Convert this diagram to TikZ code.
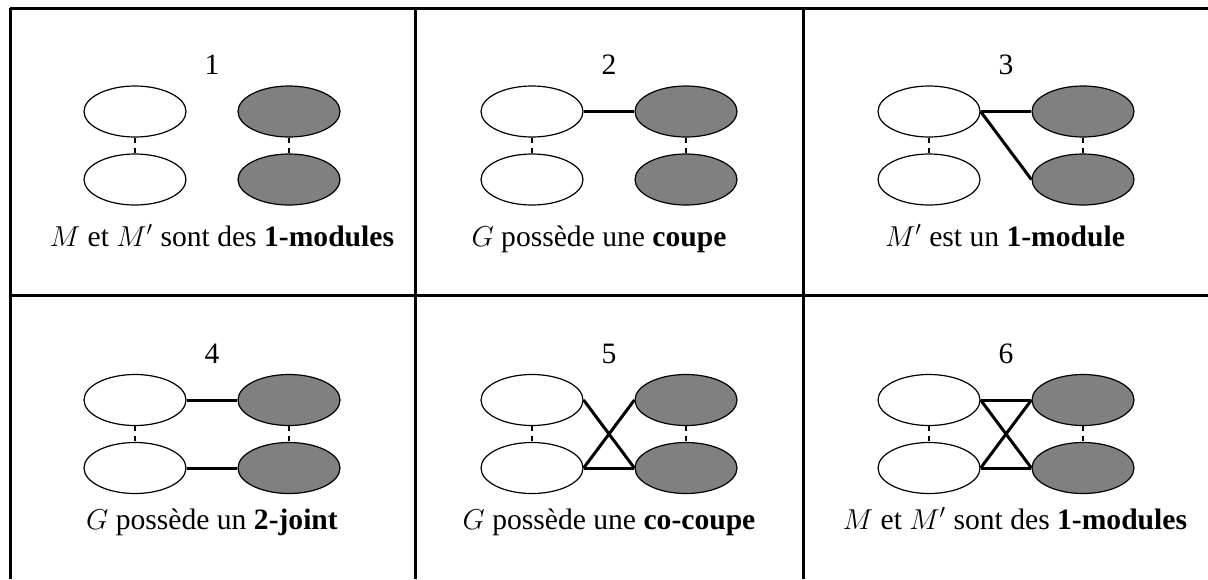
\documentclass[tikz,border=0pt,12pt]{standalone}
\usepackage{amsmath, amssymb}
\usepackage{fontspec}
\setmainfont{Liberation Serif}
\usepackage{xcolor}
\usetikzlibrary{shapes.geometric}

\tikzset{
  blanc/.style={draw, ellipse, fill=white, line width=0.6pt, inner sep=0pt,
    minimum width=51pt, minimum height=25.5pt},
  gris/.style={blanc, fill=gray},
  lien/.style={line width=1.5pt},
  pointille/.style={line width=1.2pt, dash pattern=on 2.5pt off 2.5pt},
  grille/.style={line width=1.5pt},
  titre/.style={font=\fontsize{14.8}{17}\selectfont, inner sep=0pt},
}

\begin{document}
\begin{tikzpicture}[x=0.5pt, y=-0.5pt]
\useasboundingbox (0,0) rectangle (1208,579);

% table
\draw[grille] (10,8) -- (1208,8);
\draw[grille] (10,295) -- (1208,295);
\draw[grille] (10,8) -- (10,579);
\draw[grille] (415,8) -- (415,579);
\draw[grille] (803,8) -- (803,579);

% cell 1
\node[titre] (n1) at (212,65) {1};
\node[blanc] (a1) at (135,111.5) {};
\node[blanc] (b1) at (135,179.5) {};
\node[gris] (c1) at (289,111.5) {};
\node[gris] (d1) at (289,179.5) {};
\node[titre, anchor=base] (t1) at (222,246) {$M$ et $M'$ sont des \textbf{1-modules}};

% cell 2
\node[titre] (n2) at (609,65) {2};
\node[blanc] (a2) at (532,111.5) {};
\node[blanc] (b2) at (532,179.5) {};
\node[gris] (c2) at (686,111.5) {};
\node[gris] (d2) at (686,179.5) {};
\node[titre, anchor=base] (t2) at (599,246) {$G$ possède une \textbf{coupe}};

% cell 3
\node[titre] (n3) at (1006,65) {3};
\node[blanc] (a3) at (929,111.5) {};
\node[blanc] (b3) at (929,179.5) {};
\node[gris] (c3) at (1083,111.5) {};
\node[gris] (d3) at (1083,179.5) {};
\node[titre, anchor=base] (t3) at (1005,246) {$M'$ est un \textbf{1-module}};

% cell 4
\node[titre] (n4) at (212,354) {4};
\node[blanc] (a4) at (135,400) {};
\node[blanc] (b4) at (135,468) {};
\node[gris] (c4) at (289,400) {};
\node[gris] (d4) at (289,468) {};
\node[titre, anchor=base] (t4) at (212,529) {$G$ possède un \textbf{2-joint}};

% cell 5
\node[titre] (n5) at (609,354) {5};
\node[blanc] (a5) at (532,400) {};
\node[blanc] (b5) at (532,468) {};
\node[gris] (c5) at (686,400) {};
\node[gris] (d5) at (686,468) {};
\node[titre, anchor=base] (t5) at (609,529) {$G$ possède une \textbf{co-coupe}};

% cell 6
\node[titre] (n6) at (1006,354) {6};
\node[blanc] (a6) at (929,400) {};
\node[blanc] (b6) at (929,468) {};
\node[gris] (c6) at (1083,400) {};
\node[gris] (d6) at (1083,468) {};
\node[titre, anchor=base] (t6) at (1015,529) {$M$ et $M'$ sont des \textbf{1-modules}};

% dotted links
\draw[pointille] (a1) -- (b1);
\draw[pointille] (c1) -- (d1);
\draw[pointille] (a2) -- (b2);
\draw[pointille] (c2) -- (d2);
\draw[pointille] (a3) -- (b3);
\draw[pointille] (c3) -- (d3);
\draw[pointille] (a4) -- (b4);
\draw[pointille] (c4) -- (d4);
\draw[pointille] (a5) -- (b5);
\draw[pointille] (c5) -- (d5);
\draw[pointille] (a6) -- (b6);
\draw[pointille] (c6) -- (d6);

% full links
\draw[lien] (a2.east) -- (c2.west);
\draw[lien] (a3.east) -- (c3.west);
\draw[lien] (a3.east) -- (d3.west);
\draw[lien] (a4.east) -- (c4.west);
\draw[lien] (b4.east) -- (d4.west);
\draw[lien] (a5.east) -- (d5.west);
\draw[lien] (b5.east) -- (c5.west);
\draw[lien] (b5.east) -- (d5.west);
\draw[lien] (a6.east) -- (c6.west);
\draw[lien] (a6.east) -- (d6.west);
\draw[lien] (b6.east) -- (c6.west);
\draw[lien] (b6.east) -- (d6.west);
\end{tikzpicture}
\end{document}
